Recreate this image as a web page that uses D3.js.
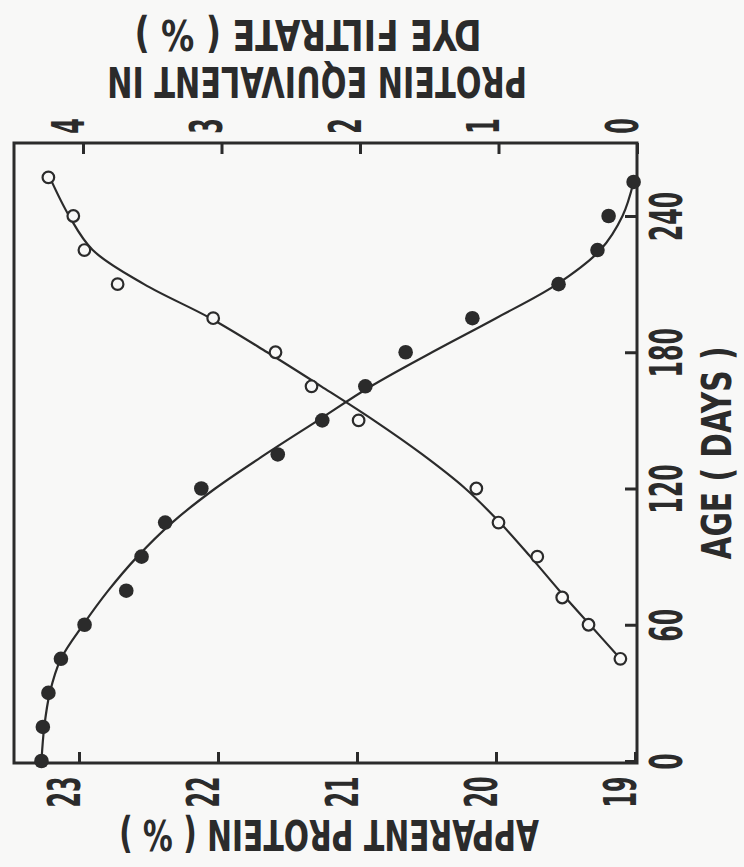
<!DOCTYPE html>
<html>
<head>
<meta charset="utf-8">
<script src="https://cdn.jsdelivr.net/npm/d3@7/dist/d3.min.js"></script>
<style>
  html, body { margin: 0; padding: 0; background: #f8f8f7; }
  svg { display: block; }
  text {
    font-family: "Liberation Sans Narrow", "DejaVu Sans Condensed", "Liberation Sans", sans-serif;
    font-weight: bold;
    fill: #2b2b2b;
  }
</style>
</head>
<body>
<div id="app"></div>
<script>
const WIDTH = 744;
const HEIGHT = 867;
const INK = "#2b2b2b";
const PAPER = "#f8f8f7";

// axis ticks
const ageTicks = [0, 60, 120, 180, 240];
const proteinTicks = [23, 22, 21, 20, 19];
const dyeTicks = [4, 3, 2, 1, 0];

// filled circles: apparent protein (%)
const proteinAge = [0, 15, 30, 45, 60, 75, 90, 105, 120, 135, 150, 165, 180, 195, 210, 225, 240, 255];
const proteinValues = [23.27, 23.26, 23.22, 23.13, 22.96, 22.66, 22.55, 22.38, 22.12, 21.57, 21.25, 20.94, 20.65, 20.17, 19.55, 19.27, 19.19, 19.01];

// open circles: protein equivalent in dye filtrate (%)
const dyeAge = [45, 60, 72, 90, 105, 120, 150, 165, 180, 195, 210, 225, 240, 257];
const dyeValues = [0.12, 0.35, 0.54, 0.72, 1.0, 1.16, 2.01, 2.35, 2.61, 3.06, 3.75, 3.99, 4.07, 4.25];

// hand drawn fitted curves
const proteinFitAge = [0, 15, 30, 45, 60, 75, 90, 105, 120, 135, 150, 165, 180, 195, 210, 225, 240, 255];
const proteinFit = [23.27, 23.25, 23.21, 23.13, 22.97, 22.79, 22.58, 22.33, 22.02, 21.66, 21.28, 20.9, 20.46, 20.0, 19.56, 19.25, 19.09, 19.01];
const dyeFitAge = [45, 60, 75, 90, 105, 120, 135, 150, 165, 180, 195, 210, 225, 240, 257];
const dyeFit = [0.12, 0.34, 0.56, 0.77, 0.99, 1.24, 1.55, 1.9, 2.28, 2.67, 3.08, 3.56, 3.93, 4.1, 4.24];

const frame = { left: 14, right: 637, top: 143, bottom: 763 };

const protein = d3.scaleLinear().domain([23, 19]).range([79, 635]);
const dye = d3.scaleLinear().domain([4, 0]).range([83, 637]);
const age = d3.scaleLinear().domain([0, 240]).range([761, 216]);

const svg = d3.select("#app")
  .append("svg")
  .attr("width", WIDTH)
  .attr("height", HEIGHT);

svg.append("rect")
  .attr("width", WIDTH).attr("height", HEIGHT)
  .attr("fill", PAPER);

// squeeze a text to a given length along its baseline (narrow lettering of the original)
function squeeze(node, length, baseTransform) {
  const natural = node.getComputedTextLength();
  const k = Math.min(1, length / natural);
  d3.select(node).attr("transform", `${baseTransform} scale(${k},1)`);
}

function styleAxis(g, x, y, perChar) {
  g.select(".domain").remove();
  g.selectAll(".tick line").attr("stroke", INK).attr("stroke-width", 3);
  g.selectAll(".tick text")
    .attr("fill", INK)
    .style("font-size", "44px")
    .attr("text-anchor", "middle")
    .attr("dy", null)
    .attr("x", null)
    .attr("y", null)
    .each(function () {
      squeeze(this, this.textContent.length * perChar, `rotate(-90) translate(${x},${y})`);
    });
}

// bottom: apparent protein
svg.append("g")
  .attr("transform", `translate(0,${frame.bottom})`)
  .call(d3.axisBottom(protein).tickValues(proteinTicks).tickSizeInner(-11).tickSizeOuter(0).tickFormat(d3.format("d")))
  .call(styleAxis, -29, 0, 15.5);

// top: dye filtrate
svg.append("g")
  .attr("transform", `translate(0,${frame.top})`)
  .call(d3.axisTop(dye).tickValues(dyeTicks).tickSizeInner(-11).tickSizeOuter(0).tickFormat(d3.format("d")))
  .call(styleAxis, 17, 0, 15.5);

// right: age
svg.append("g")
  .attr("transform", `translate(${frame.right},0)`)
  .call(d3.axisRight(age).tickValues(ageTicks).tickSizeInner(-12).tickSizeOuter(0).tickFormat(d3.format("d")))
  .call(styleAxis, 0, 45, 16.5);

// frame
svg.append("rect")
  .attr("x", frame.left).attr("y", frame.top)
  .attr("width", frame.right - frame.left)
  .attr("height", frame.bottom - frame.top)
  .attr("fill", "none")
  .attr("stroke", INK)
  .attr("stroke-width", 3);

// axis titles
function title(x, y, angle, str, len, size) {
  const t = svg.append("text")
    .attr("text-anchor", "middle")
    .style("font-size", size + "px")
    .text(str);
  squeeze(t.node(), len, `translate(${x},${y}) rotate(${angle})`);
}
title(329, 820, 180, "APPARENT PROTEIN ( % )", 420, 43);
title(317, 67, 180, "PROTEIN EQUIVALENT IN", 420, 43);
title(308, 20, 180, "DYE FILTRATE ( % )", 347, 43);
title(731, 453, -90, "AGE ( DAYS )", 213, 40);

// fitted curves
const proteinLine = d3.line()
  .x((d) => protein(d[1]))
  .y((d) => age(d[0]))
  .curve(d3.curveCatmullRom.alpha(0.5));
const dyeLine = d3.line()
  .x((d) => dye(d[1]))
  .y((d) => age(d[0]))
  .curve(d3.curveCatmullRom.alpha(0.5));

svg.append("path")
  .datum(d3.zip(proteinFitAge, proteinFit))
  .attr("d", proteinLine)
  .attr("fill", "none")
  .attr("stroke", INK)
  .attr("stroke-width", 2.2);

svg.append("path")
  .datum(d3.zip(dyeFitAge, dyeFit))
  .attr("d", dyeLine)
  .attr("fill", "none")
  .attr("stroke", INK)
  .attr("stroke-width", 2.2);

// points
svg.append("g")
  .selectAll("circle")
  .data(d3.zip(proteinAge, proteinValues))
  .join("circle")
  .attr("cx", (d) => protein(d[1]))
  .attr("cy", (d) => age(d[0]))
  .attr("r", 7.3)
  .attr("fill", INK);

svg.append("g")
  .selectAll("circle")
  .data(d3.zip(dyeAge, dyeValues))
  .join("circle")
  .attr("cx", (d) => dye(d[1]))
  .attr("cy", (d) => age(d[0]))
  .attr("r", 5.8)
  .attr("fill", PAPER)
  .attr("stroke", INK)
  .attr("stroke-width", 2.2);
</script>
</body>
</html>
